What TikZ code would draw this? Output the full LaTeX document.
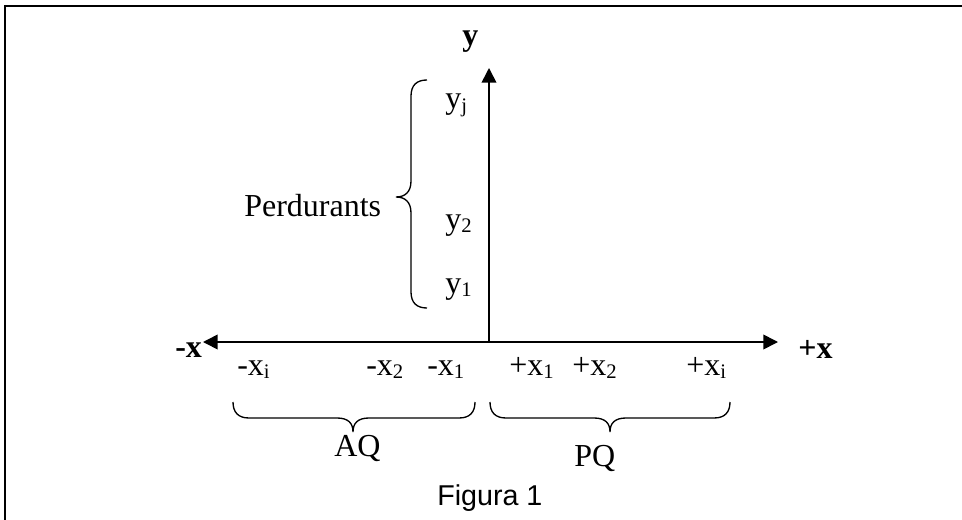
\documentclass[tikz,border=0pt]{standalone}
\usepackage{fontspec}
\setmainfont{Liberation Serif}
\newfontfamily\arialf{Liberation Sans}
\usetikzlibrary{arrows.meta}
\newcommand{\lsub}[1]{\raisebox{-2.6pt}{\fontsize{15.5}{16}\selectfont #1}}
\newcommand{\HBrace}[4]{\draw[brc] (#1,#4) .. controls (#1,#4+10) and (#1+5,#4+16) .. (#1+16,#4+16) -- (#2-16,#4+16) .. controls (#2-5,#4+16) and (#2,#4+21) .. (#2,#4+30) .. controls (#2,#4+21) and (#2+5,#4+16) .. (#2+16,#4+16) -- (#3-16,#4+16) .. controls (#3-5,#4+16) and (#3,#4+10) .. (#3,#4);}
\newcommand{\VBrace}[4]{\draw[brc] (#1,#2) .. controls (#1-10,#2) and (#1-16,#2+5) .. (#1-16,#2+16) -- (#1-16,#3-16) .. controls (#1-16,#3-5) and (#1-22,#3) .. (#1-31,#3) .. controls (#1-22,#3) and (#1-16,#3+5) .. (#1-16,#3+16) -- (#1-16,#4-16) .. controls (#1-16,#4-5) and (#1-10,#4) .. (#1,#4);}
\begin{document}
\begin{tikzpicture}[x=0.75pt,y=-0.75pt,
  lbl/.style={inner sep=0,anchor=base west,font=\fontsize{24}{28}\selectfont},
  blbl/.style={inner sep=0,anchor=base west,font=\fontsize{24}{28}\selectfont\bfseries},
  axis/.style={line width=1.2pt,-{Triangle[length=11pt,width=11pt]}},
  brc/.style={line width=1pt}]
\useasboundingbox (0,0) rectangle (962,520);
% frame
\draw[line width=2pt] (4.5,6) -- (962,6);
\draw[line width=1.2pt] (5,5) -- (5,520);
% axes
\coordinate (O) at (489,342);
\coordinate (ytip) at (489,68);
\coordinate (xl) at (203,342);
\coordinate (xr) at (778,342);
\draw[axis] (O) -- (ytip);
\draw[axis] (O) -- (xl);
\draw[axis] (O) -- (xr);
% labels
\node[blbl] (ylab) at (462,46) {y};
\node[blbl] (mx) at (175,357) {-x};
\node[blbl] (px) at (798,358) {+x};
\node[lbl] (mxi) at (237,375) {-x\lsub{i}};
\node[lbl] (mx2) at (366,375) {-x\lsub{2}};
\node[lbl] (mx1) at (427,375) {-x\lsub{1}};
\node[lbl] (px1) at (509,375) {+x\lsub{1}};
\node[lbl] (px2) at (572,375) {+x\lsub{2}};
\node[lbl] (pxi) at (686,375) {+x\lsub{i}};
\node[lbl] (yj) at (445,109) {y\lsub{j}};
\node[lbl] (y2) at (445,229) {y\lsub{2}};
\node[lbl] (y1) at (445,293) {y\lsub{1}};
\node[lbl] (perd) at (244,216) {Perdurants};
\node[lbl] (aq) at (334,456) {AQ};
\node[lbl] (pq) at (574,466) {PQ};
\node[inner sep=0,anchor=base west,font=\arialf\fontsize{21.5}{26}\selectfont] (fig) at (437,505) {Figura 1};
% braces
\VBrace{427}{80}{197}{308}
\HBrace{233}{353}{475}{402}
\HBrace{490}{610}{730}{402}
\end{tikzpicture}
\end{document}
